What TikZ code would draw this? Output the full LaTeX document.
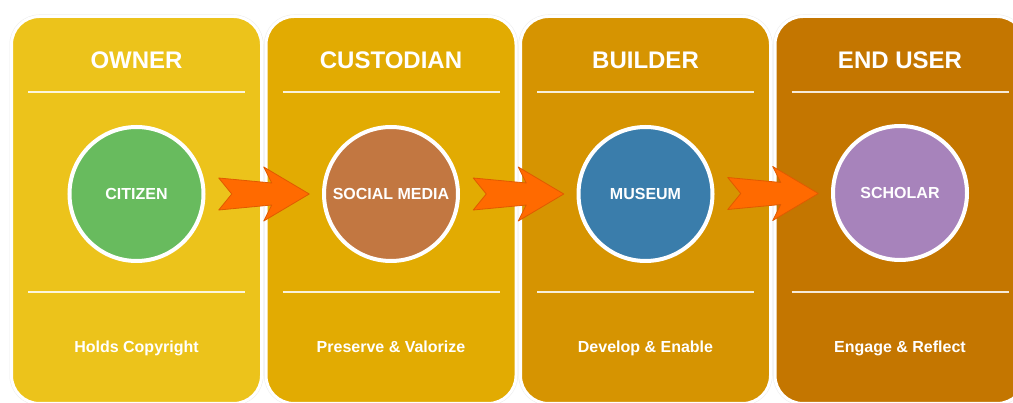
\documentclass[tikz,border=0pt]{standalone}
\usepackage{fontspec}
\setmainfont{Liberation Sans}
\usetikzlibrary{calc}
\definecolor{ownerbg}{HTML}{ECC31B}
\definecolor{custodianbg}{HTML}{E2AB02}
\definecolor{builderbg}{HTML}{D69401}
\definecolor{enduserbg}{HTML}{C47600}
\definecolor{citizenfill}{HTML}{68BB5E}
\definecolor{socialfill}{HTML}{C27741}
\definecolor{museumfill}{HTML}{3A7DAB}
\definecolor{scholarfill}{HTML}{A783BB}
\definecolor{arrowfill}{HTML}{FF6A00}
\definecolor{arrowedge}{HTML}{E05A00}
\begin{document}
\begin{tikzpicture}[x=1pt,y=-1pt,
  panel/.style={rectangle, rounded corners=28pt, minimum width=250pt, minimum height=387pt,
    draw=white, line width=3pt, preaction={draw=black!7, line width=4pt}},
  role/.style={circle, minimum size=134pt, draw=white, line width=4pt, text=white,
    font=\bfseries\fontsize{16}{16}\selectfont},
  title/.style={anchor=base, text=white, font=\bfseries\fontsize{24}{24}\selectfont},
  task/.style={anchor=base, text=white, font=\bfseries\fontsize{16}{16}\selectfont},
  rule/.style={draw=white, draw opacity=0.85, line width=1.5pt},
  pics/blockarrow/.style={code={
    \draw[fill=arrowfill, draw=arrowedge, line width=0.8pt, line join=round]
      (-45,-16) -- (-32,0) -- (-45,16) -- (8,11) -- (0,27) -- (45.5,0) -- (0,-27) -- (8,-11) -- cycle;}}]
\clip (0,0) rectangle (1013,403);
\fill[white] (0,0) rectangle (1013,403);
% columns
\node[panel, fill=ownerbg] (owner) at (136.5,210) {};
\node[panel, fill=custodianbg] (custodian) at (391,210) {};
\node[panel, fill=builderbg] (builder) at (645.5,210) {};
\node[panel, fill=enduserbg] (enduser) at (900,210) {};
% headings
\node[title] (ownertitle) at (136.5,69) {OWNER};
\node[title] (custodiantitle) at (391,69) {CUSTODIAN};
\node[title] (buildertitle) at (645.5,69) {BUILDER};
\node[title] (endusertitle) at (900,69) {END USER};
\draw[rule] (28,92) -- (245,92) (28,292) -- (245,292);
\draw[rule] (282.5,92) -- (499.5,92) (282.5,292) -- (499.5,292);
\draw[rule] (537,92) -- (754,92) (537,292) -- (754,292);
\draw[rule] (791.5,92) -- (1008.5,92) (791.5,292) -- (1008.5,292);
% actors
\node[role, fill=citizenfill] (citizen) at (136.5,194) {CITIZEN};
\node[role, fill=socialfill] (social) at (391,194) {SOCIAL MEDIA};
\node[role, fill=museumfill] (museum) at (645.5,194) {MUSEUM};
\node[role, fill=scholarfill] (scholar) at (900,193) {SCHOLAR};
% tasks
\node[task] (ownertask) at (136.5,352.7) {Holds Copyright};
\node[task] (custodiantask) at (391,352.7) {Preserve \& Valorize};
\node[task] (buildertask) at (645.5,352.7) {Develop \& Enable};
\node[task] (endusertask) at (900,352.7) {Engage \& Reflect};
% flow
\pic at ($(citizen)!0.5!(social)$) {blockarrow};
\pic at ($(social)!0.5!(museum)$) {blockarrow};
\pic at ($(museum)!0.5!(scholar)$) {blockarrow};
\end{tikzpicture}
\end{document}
